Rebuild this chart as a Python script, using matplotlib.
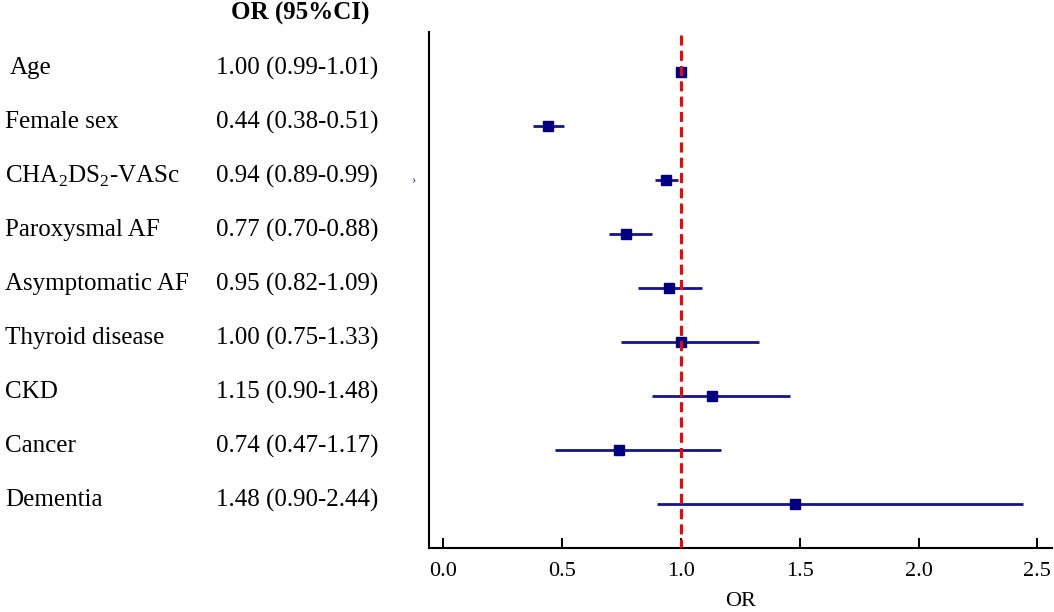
import matplotlib.pyplot as plt
import matplotlib.transforms as mtransforms

plt.rcParams['font.family'] = 'Liberation Serif'
plt.rcParams['mathtext.fontset'] = 'custom'
plt.rcParams['mathtext.rm'] = 'Liberation Serif'

# variables, top to bottom
labels = ['Age', 'Female sex', r'CHA$_2$DS$_2$-VASc', 'Paroxysmal AF', 'Asymptomatic AF',
          'Thyroid disease', 'CKD', 'Cancer', 'Dementia']
ci_text = ['1.00 (0.99-1.01)', '0.44 (0.38-0.51)', '0.94 (0.89-0.99)', '0.77 (0.70-0.88)',
           '0.95 (0.82-1.09)', '1.00 (0.75-1.33)', '1.15 (0.90-1.48)', '0.74 (0.47-1.17)',
           '1.48 (0.90-2.44)']
# values as drawn in the plot
or_vals = [1.00, 0.44, 0.94, 0.77, 0.95, 1.00, 1.13, 0.74, 1.48]
ci_low = [0.99, 0.38, 0.89, 0.70, 0.82, 0.75, 0.88, 0.47, 0.90]
ci_high = [1.01, 0.51, 0.99, 0.88, 1.09, 1.33, 1.46, 1.17, 2.44]
xticks = [0.0, 0.5, 1.0, 1.5, 2.0, 2.5]

fig = plt.figure(figsize=(10.54, 6.12), dpi=100)
ax = fig.add_axes([0.407, 0.1046, 0.591, 0.8431])

rows = list(range(len(labels)))
ax.hlines(rows, ci_low, ci_high, color='#14148c', lw=2.0, zorder=2)
ax.plot(or_vals, rows, 's', color='#000080', markersize=7.5, zorder=3)
ax.vlines(1.0, -0.68, 8.81, color='red', lw=2.2, linestyles=(0, (3.3, 1.7)), zorder=4)

ax.set_xlim(-0.059, 2.561)
ax.set_ylim(8.81, -0.74)
ax.set_xticks(xticks)
ax.set_xticklabels([f'{t:.1f}' for t in xticks], fontsize=16)
ax.set_yticks([])
ax.tick_params(axis='x', direction='in', length=7.5, width=1.4, pad=10)
ax.set_xlabel('OR', fontsize=16, labelpad=8)
for s in ['top', 'right']:
    ax.spines[s].set_visible(False)
for s in ['left', 'bottom']:
    ax.spines[s].set_linewidth(1.5)

trans = mtransforms.blended_transform_factory(fig.transFigure, ax.transData)
for i, (lab, ci) in enumerate(zip(labels, ci_text)):
    ax.text(0.005 if i else 0.009, i - 0.07, lab, transform=trans, fontsize=18,
            va='center', ha='left', clip_on=False)
    ax.text(0.205, i - 0.07, ci, transform=trans, fontsize=18,
            va='center', ha='left', clip_on=False)

fig.text(0.285, 0.978, 'OR (95%CI)', fontsize=18, fontweight='bold', ha='center', va='center')
ax.text(0.392, 2, '›', transform=trans, fontsize=9, color='#333366', va='center', ha='center')

fig.savefig('out.png', dpi=100)
